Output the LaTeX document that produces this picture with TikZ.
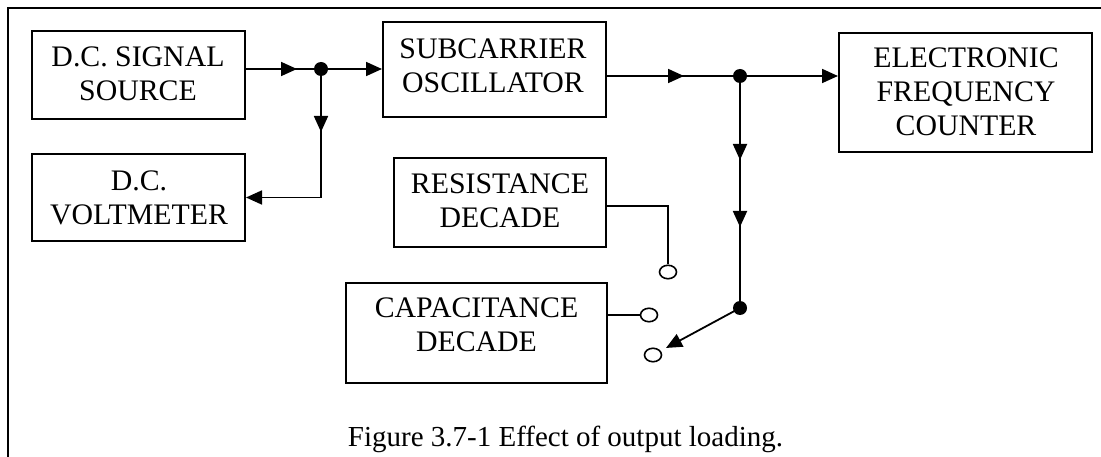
\documentclass[tikz,border=0pt]{standalone}
\usepackage{fontspec}
\setmainfont{Liberation Serif}
\usetikzlibrary{arrows.meta,shapes.geometric,decorations.markings}
\begin{document}
\begin{tikzpicture}[x=1pt,y=-1pt,
  tipA/.tip={Triangle[length=16pt,width=14pt]},
  box/.style={draw, rectangle, line width=2pt, inner sep=0pt},
  lbl/.style={align=center, inner sep=0pt, font=\fontsize{29.8}{33.8}\selectfont},
  wire/.style={line width=1.8pt},
  dot/.style={circle, fill=black, inner sep=0pt, minimum size=14pt},
  term/.style={ellipse, draw, line width=1.6pt, fill=white, inner sep=0pt, minimum width=17pt, minimum height=13.5pt},
  midarrow/.style={postaction={decorate}, decoration={markings, mark=at position #1 with {\arrow{tipA}}}},
  twoarrows/.style 2 args={postaction={decorate}, decoration={markings, mark=at position #1 with {\arrow{tipA}}, mark=at position #2 with {\arrow{tipA}}}}
]
\useasboundingbox (0,0) rectangle (1101,457);

% frame
\coordinate (fbl) at (8,457);
\coordinate (ftl) at (8,8);
\coordinate (ftr) at (1101,8);
\draw[line width=2.5pt] (fbl) -- (ftl) -- (ftr);

% boxes
\node[box, minimum width=213pt, minimum height=88pt] (src) at (138.5,75) {};
\node[box, minimum width=213pt, minimum height=87pt] (volt) at (138.5,197.5) {};
\node[box, minimum width=223pt, minimum height=95pt] (sub) at (494.5,69.5) {};
\node[box, minimum width=253pt, minimum height=119pt] (efc) at (965.5,92.5) {};
\node[box, minimum width=212pt, minimum height=89pt] (res) at (500,202.5) {};
\node[box, minimum width=261pt, minimum height=100pt] (cap) at (476.5,333) {};

% labels
\node[lbl] (srcT) at (138,74) {D.C. SIGNAL\\SOURCE};
\node[lbl] (voltT) at (139,198) {D.C.\\VOLTMETER};
\node[lbl] (subT) at (493,65.5) {SUBCARRIER\\OSCILLATOR};
\node[lbl] (efcT) at (966,91.5) {ELECTRONIC\\FREQUENCY\\COUNTER};
\node[lbl] (resT) at (500,201) {RESISTANCE\\DECADE};
\node[lbl] (capT) at (476.5,324.5) {CAPACITANCE\\DECADE};
\node[anchor=base, inner sep=0pt, font=\fontsize{29}{34}\selectfont] (caption) at (565.5,446) {Figure 3.7-1 Effect of output loading.};

% junctions and terminals
\node[dot] (j1) at (321,69) {};
\node[dot] (j2) at (740,76) {};
\node[dot] (j3) at (740,308) {};
\node[term] (t1) at (668,272) {};
\node[term] (t2) at (649,315) {};
\node[term] (t3) at (653,355) {};

% connectors
\draw[wire, midarrow=51pt] (src.east |- j1) -- (j1.center);
\draw[wire, -tipA] (j1.center) -- (sub.west |- j1);
\draw[wire, -tipA, midarrow=63pt] (j1.center) |- (volt.east);
\draw[wire, midarrow=77pt] (sub.east |- j2) -- (j2.center);
\draw[wire, -tipA] (j2.center) -- (efc.west |- j2);
\draw[wire, twoarrows={84pt}{151pt}] (j2.center) -- (j3.center);
\draw[wire, -tipA, shorten >=6pt] (j3.center) -- (t3);
\draw[wire] ([yshift=-3.5pt]res.east) -| (t1.north);
\draw[wire] (cap.east |- t2) -- (t2.west);
\end{tikzpicture}
\end{document}
